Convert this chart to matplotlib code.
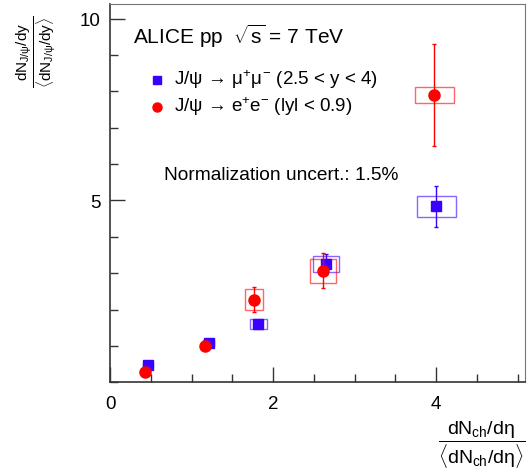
import numpy as np
import matplotlib.pyplot as plt
from matplotlib.patches import Rectangle
from matplotlib.ticker import MultipleLocator

plt.rcParams['font.family'] = ['Liberation Sans', 'DejaVu Sans']
plt.rcParams['mathtext.fontset'] = 'custom'
plt.rcParams['mathtext.rm'] = 'Liberation Sans'
plt.rcParams['mathtext.it'] = 'Liberation Sans'
plt.rcParams['mathtext.bf'] = 'Liberation Sans:bold'

# J/psi -> mu+mu- (forward)
mu_x = [0.47, 1.21, 1.82, 2.65, 4.0]
mu_y = [0.48, 1.08, 1.60, 3.25, 4.84]
mu_stat = [0.05, 0.06, 0.07, 0.27, 0.57]
mu_sys_x = [0.06, 0.07, 0.10, 0.16, 0.24]
mu_sys_y = [0.06, 0.08, 0.14, 0.21, 0.29]

# J/psi -> e+e- (mid)
ee_x = [0.43, 1.17, 1.77, 2.61, 3.98]
ee_y = [0.27, 0.99, 2.27, 3.07, 7.90]
ee_stat = [0.05, 0.08, 0.35, 0.48, 1.41]
ee_sys_x = [0.05, 0.06, 0.11, 0.16, 0.245]
ee_sys_y = [0.04, 0.07, 0.29, 0.33, 0.21]

blue = '#3a00ff'
red = '#ff0000'

fig = plt.figure(figsize=(5.31, 4.77), dpi=100)
ax = fig.add_axes([110/531, 1-383.3/477, (525-110)/531, (383.3-5)/477])

for x, y, dx, dy in zip(mu_x, mu_y, mu_sys_x, mu_sys_y):
    ax.add_patch(Rectangle((x-dx, y-dy), 2*dx, 2*dy, fill=False, ec=blue, lw=1, alpha=0.6))
for x, y, dx, dy in zip(ee_x, ee_y, ee_sys_x, ee_sys_y):
    ax.add_patch(Rectangle((x-dx, y-dy), 2*dx, 2*dy, fill=False, ec=red, lw=1, alpha=0.6))

ax.errorbar(mu_x, mu_y, yerr=mu_stat, fmt='s', color=blue, ecolor=blue, elinewidth=1,
            capsize=1.5, ms=7.5, zorder=3)
ax.errorbar(ee_x, ee_y, yerr=ee_stat, fmt='o', color=red, ecolor=red, elinewidth=1,
            capsize=1.5, ms=8, zorder=4)

ax.set_xlim(0, 5.09)
ax.set_ylim(0, 10.4)
ax.xaxis.set_major_locator(MultipleLocator(2))
ax.xaxis.set_minor_locator(MultipleLocator(0.5))
ax.yaxis.set_major_locator(MultipleLocator(5))
ax.yaxis.set_minor_locator(MultipleLocator(1))
ax.set_yticks([5, 10])
ax.tick_params(which='both', direction='in', labelsize=13.5, width=1, color='#333333')
ax.tick_params(which='major', length=11)
ax.tick_params(which='minor', length=5.5)
ax.tick_params(axis='x', pad=9)
ax.tick_params(axis='y', pad=7)
for s in ['left', 'bottom']:
    ax.spines[s].set_linewidth(1.2)
    ax.spines[s].set_color('#333333')
for s in ['top', 'right']:
    ax.spines[s].set_linewidth(0.8)
    ax.spines[s].set_color('#777777')

ax.text(133/531, 1-36/477, r'ALICE pp  $\sqrt{\rm s}$ = 7 TeV', transform=fig.transFigure,
        fontsize=15, va='center', ha='left')
ax.plot([157/531], [1-81/477], 's', color=blue, ms=6, transform=fig.transFigure)
ax.plot([157/531], [1-108/477], 'o', color=red, ms=6.5, transform=fig.transFigure)
ax.text(174/531, 1-80/477, 'J/ψ \u2192 $\\mu^{+}\\mu^{-}$ (2.5 < y < 4)',
        transform=fig.transFigure, fontsize=13.5, va='center', ha='left')
ax.text(174/531, 1-107/477, 'J/ψ \u2192 e$^{+}$e$^{-}$ (lyl < 0.9)',
        transform=fig.transFigure, fontsize=13.5, va='center', ha='left')
ax.text(164/531, 1-176/477, 'Normalization uncert.: 1.5%', transform=fig.transFigure,
        fontsize=13.8, va='center', ha='left')

fig.text(36/531, 1-52/477, r'$\dfrac{dN_{J/\psi}/dy}{\langle dN_{J/\psi}/dy\rangle}$',
         rotation=90, fontsize=11, ha='center', va='center')
fig.text(482/531, 1-445/477, r'$\dfrac{dN_{ch}/d\eta}{\langle dN_{ch}/d\eta\rangle}$',
         fontsize=14, ha='center', va='center')

fig.savefig('out.png', dpi=100)
